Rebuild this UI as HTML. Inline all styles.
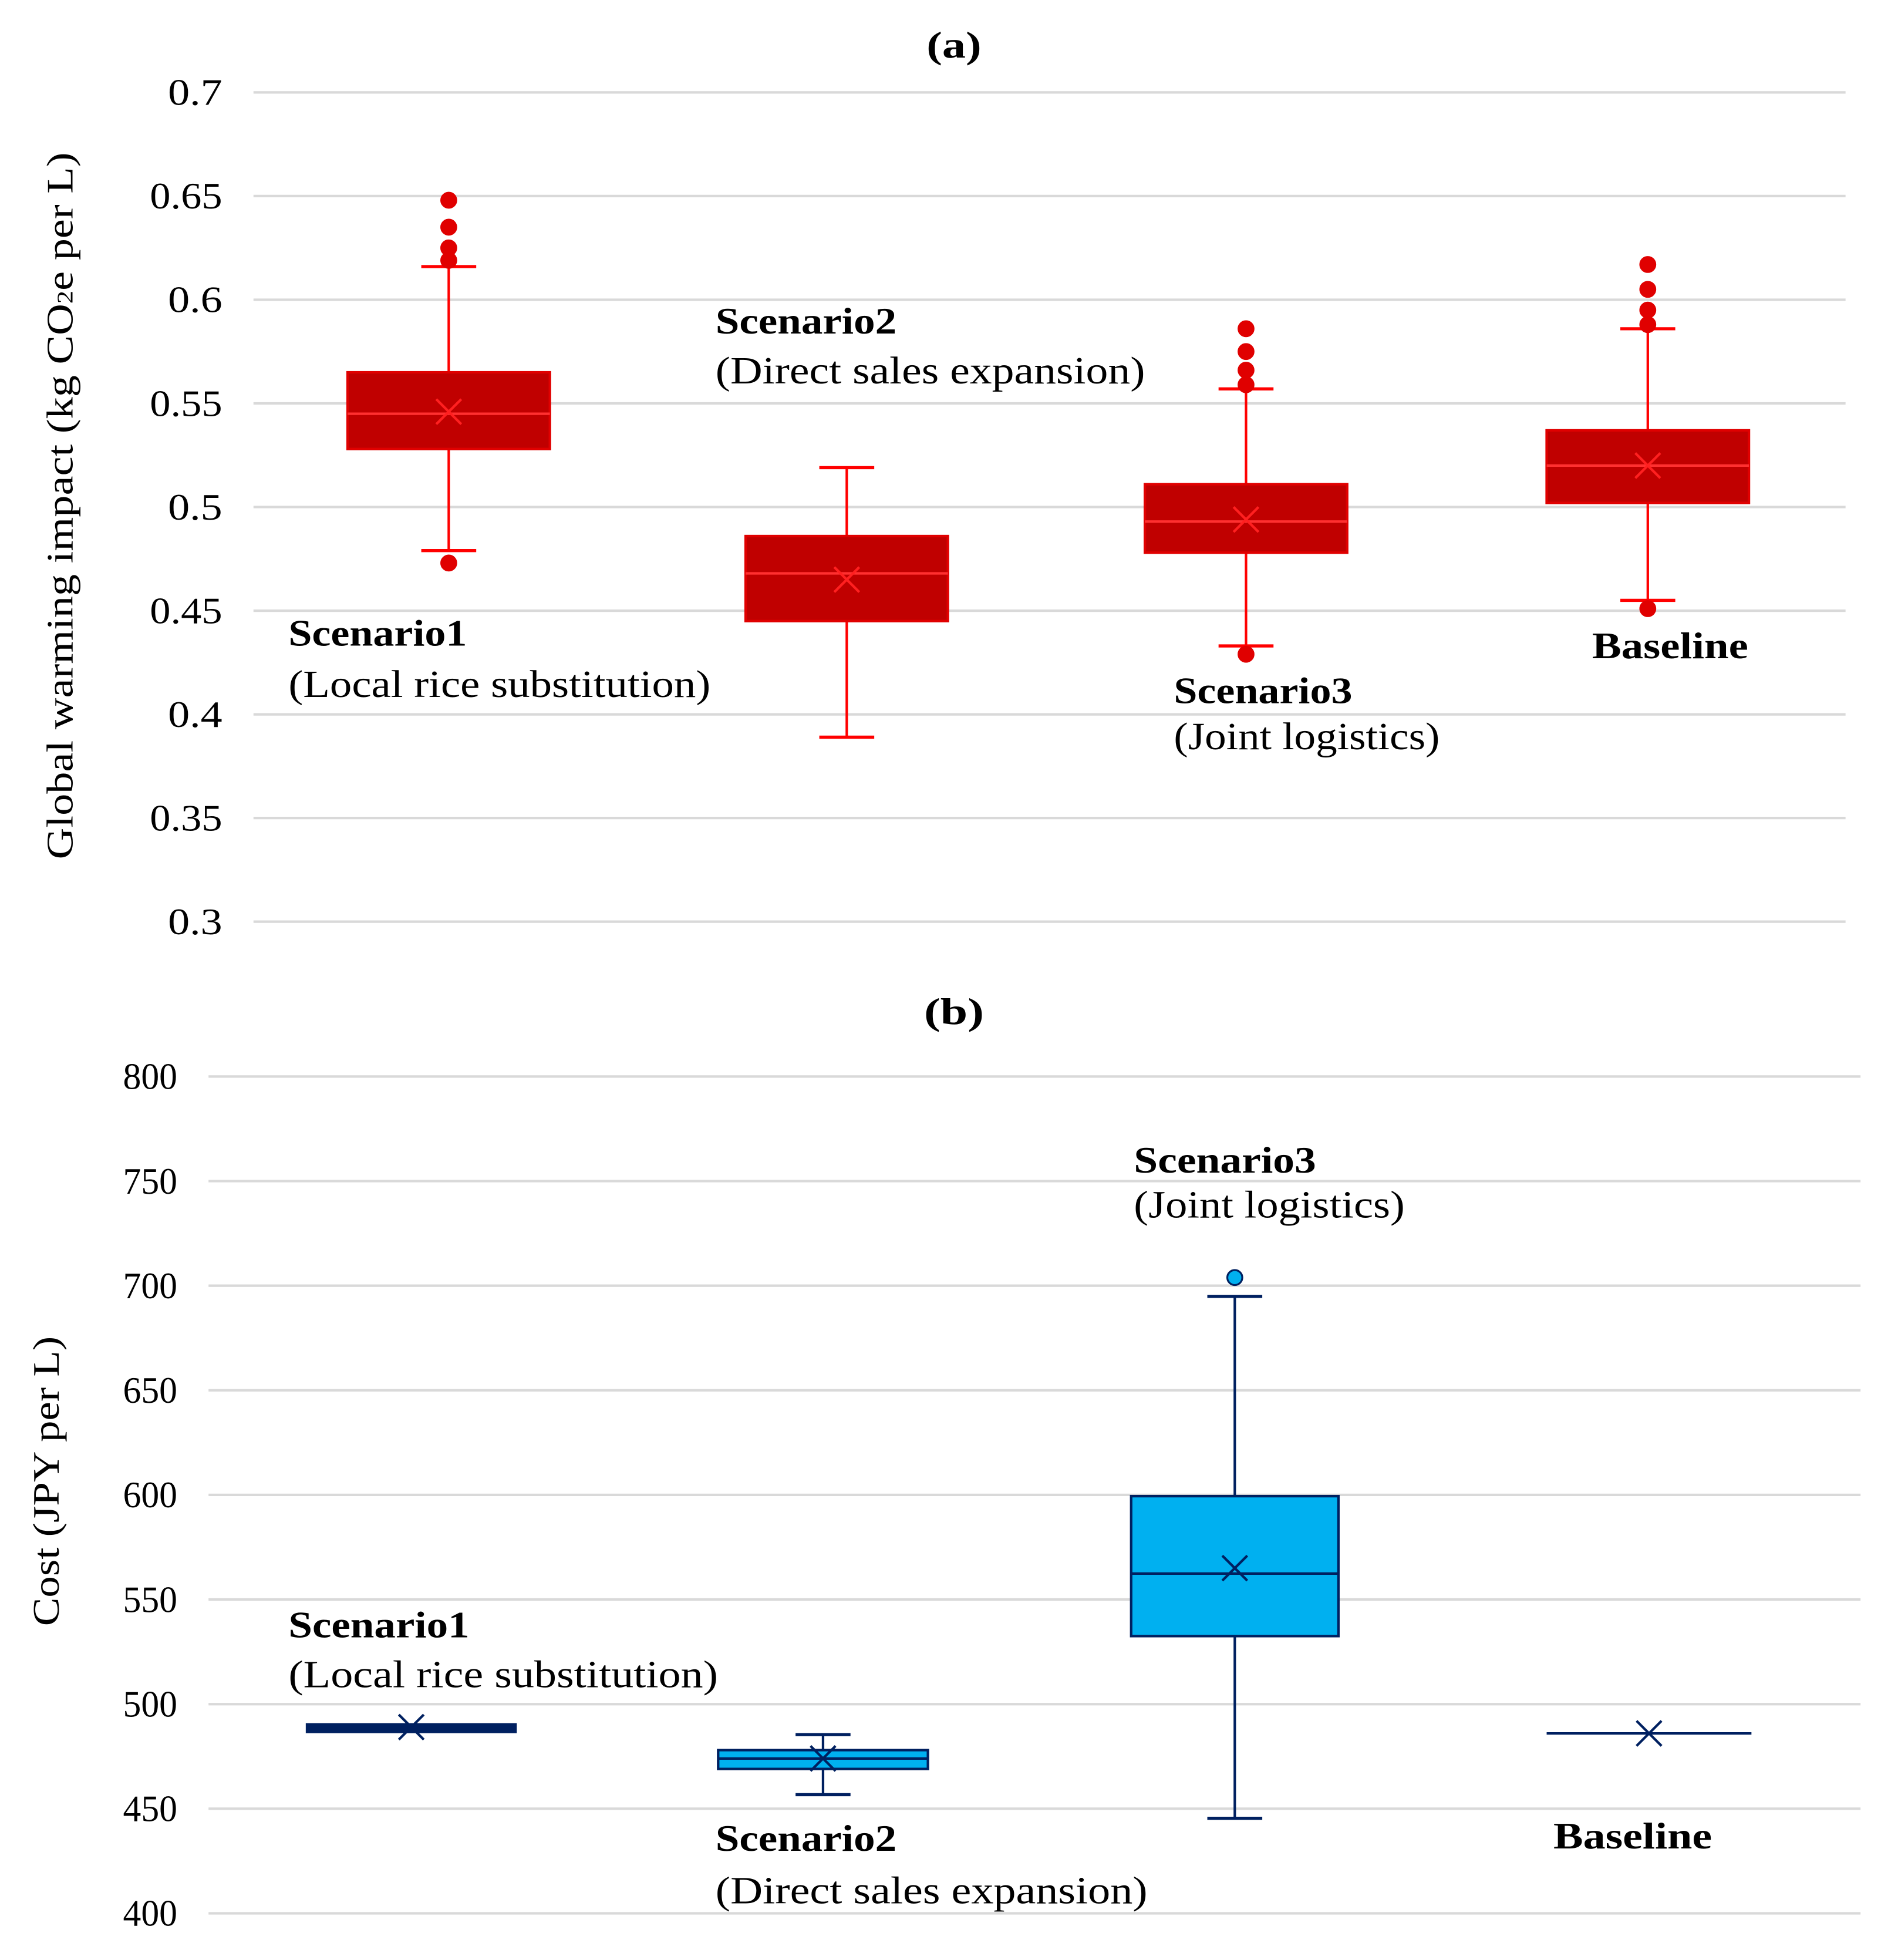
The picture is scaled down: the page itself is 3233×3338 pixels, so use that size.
<!DOCTYPE html>
<html><head><meta charset="utf-8">
<style>
html,body{margin:0;padding:0;background:#fff;}
svg{display:block;}
text{font-family:"Liberation Serif",serif;fill:#000;}
</style></head>
<body>
<svg id="chart" width="3233" height="3338" viewBox="0 0 1520 1569.4" preserveAspectRatio="none" xmlns="http://www.w3.org/2000/svg">
<rect width="1520" height="1570" fill="#fff"/>
<g id="pa"></g>
<g id="pb"></g>
</svg>
<script>
const catsA = ["Scenario1","Scenario2","Scenario3","Baseline"];
const q1A = [0.528,0.445,0.478,0.502];
const q3A = [0.565,0.486,0.511,0.537];
const medA = [0.545,0.468,0.493,0.520];
const meanA = [0.546,0.465,0.494,0.520];
const loA = [0.479,0.389,0.433,0.455];
const hiA = [0.616,0.519,0.557,0.586];
const outA = [[0.648,0.635,0.625,0.619,0.473],[],[0.586,0.575,0.566,0.559,0.429],[0.617,0.605,0.595,0.588,0.451]];
const ticksA = [0.3,0.35,0.4,0.45,0.5,0.55,0.6,0.65,0.7];
const tickLabA = ["0.3","0.35","0.4","0.45","0.5","0.55","0.6","0.65","0.7"];

const catsB = ["Scenario1","Scenario2","Scenario3","Baseline"];
const q1B = [487,469,532.5,486];
const q3B = [490,478,599.4,486];
const medB = [488.5,474,562.4,486];
const meanB = [489,474,565,486];
const loB = [488,456.7,445.4,486];
const hiB = [489,485.4,694.9,486];
const outB = [[],[],[703.9],[]];
const ticksB = [400,450,500,550,600,650,700,750,800];
const tickLabB = ["400","450","500","550","600","650","700","750","800"];

const NS="http://www.w3.org/2000/svg";
function mk(parent,tag,attrs,txt){const e=document.createElementNS(NS,tag);for(const k in attrs)e.setAttribute(k,attrs[k]);if(txt!==undefined)e.textContent=txt;parent.appendChild(e);return e;}

function panel(g,cfg){
  const y=v=>cfg.y0+(cfg.vmax-v)/(cfg.vmax-cfg.vmin)*(cfg.y1-cfg.y0);
  const x=i=>cfg.xl+(i+0.5)*(cfg.xr-cfg.xl)/cfg.cats.length;
  cfg.ticks.forEach((t,i)=>{
    const l=mk(g,'line',{x1:cfg.xl,x2:cfg.xr,y1:y(t),y2:y(t),stroke:'#d9d9d9','stroke-width':2});
    
    
    const tx=mk(g,'text',{x:cfg.xl-25,y:y(t)+10,'text-anchor':'end','font-size':30,'textLength':cfg.tickLab[i].length*14.5,'lengthAdjust':'spacingAndGlyphs'},cfg.tickLab[i]);
    
    
  });
  cfg.cats.forEach((c,i)=>{
    const bg=mk(g,'g',{});
    
    
    const cx=x(i)+cfg.dx[i], w=cfg.bw[i], cap=cfg.cap;
    mk(bg,'line',{x1:cx,x2:cx,y1:y(cfg.hi[i]),y2:y(cfg.q3[i]),stroke:cfg.wc,'stroke-width':2});
    mk(bg,'line',{x1:cx,x2:cx,y1:y(cfg.q1[i]),y2:y(cfg.lo[i]),stroke:cfg.wc,'stroke-width':2});
    if(cfg.hi[i]!==cfg.q3[i]){
      mk(bg,'line',{x1:cx-cap,x2:cx+cap,y1:y(cfg.hi[i]),y2:y(cfg.hi[i]),stroke:cfg.wc,'stroke-width':2.5});
      mk(bg,'line',{x1:cx-cap,x2:cx+cap,y1:y(cfg.lo[i]),y2:y(cfg.lo[i]),stroke:cfg.wc,'stroke-width':2.5});
    }
    const h=Math.max(y(cfg.q1[i])-y(cfg.q3[i]),0);
    mk(bg,'rect',{x:cx-w/2,y:y(cfg.q3[i]),width:w,height:h,fill:h>6?cfg.fill:cfg.lc,stroke:cfg.lc,'stroke-width':h>0&&h<=6?3:2});
    mk(bg,'line',{x1:cx-w/2,x2:cx+w/2,y1:y(cfg.med[i]),y2:y(cfg.med[i]),stroke:cfg.mc,'stroke-width':2});
    const my=y(cfg.mean[i]),s=10;
    mk(bg,'path',{d:`M${cx-s} ${my-s}L${cx+s} ${my+s}M${cx+s} ${my-s}L${cx-s} ${my+s}`,stroke:cfg.xc,'stroke-width':2,fill:'none'});
    cfg.out[i].forEach(o=>{
      const d=mk(bg,'circle',{cx:cx,cy:y(o),r:6,fill:cfg.oc,stroke:cfg.ocs,'stroke-width':1.5});
      
      
    });
  });
}

const ga=document.getElementById('pa');
panel(ga,{cats:catsA,q1:q1A,q3:q3A,med:medA,mean:meanA,lo:loA,hi:hiA,out:outA,ticks:ticksA,tickLab:tickLabA,
  vmin:0.3,vmax:0.7,y0:74,y1:738,xl:203,xr:1478,dx:[-3,-3,-2,1],bw:[162,162,162,162],cap:22,
  fill:'#C00000',lc:'#E00000',mc:'#FF3030',wc:'#FF0000',xc:'#FF2020',oc:'#E00000',ocs:'#E00000'});
const gb=document.getElementById('pb');
panel(gb,{cats:catsB,q1:q1B,q3:q3B,med:medB,mean:meanB,lo:loB,hi:hiB,out:outB,ticks:ticksB,tickLab:tickLabB,
  vmin:400,vmax:800,y0:862,y1:1532,xl:167,xr:1490,dx:[-3,-4,-5,-4],bw:[166,168,166,164],cap:22,
  fill:'#00B0F0',lc:'#002060',mc:'#002060',wc:'#002060',xc:'#002060',oc:'#00B0F0',ocs:'#002060'});

function label(txt,x,y,bold,name,len){
  const a={x:x,y:y,'font-size':bold?30:31,'font-weight':bold?'bold':'normal'};
  if(len){a.textLength=len;a.lengthAdjust='spacingAndGlyphs';}
  const t=mk(document.getElementById('chart'),'text',a,txt);
  
  
}
label('(a)',742,46,true,'panel-a-title',44);
label('(b)',740,820,true,'panel-b-title',48);
label('Scenario2',573,267,true,'annotation-scenario2',145);
label('(Direct sales expansion)',573,307,false,'annotation-scenario2-desc',344);
label('Scenario1',231,517,true,'annotation-scenario1',143);
label('(Local rice substitution)',231,558,false,'annotation-scenario1-desc',338);
label('Scenario3',940,563,true,'annotation-scenario3',143);
label('(Joint logistics)',940,600,false,'annotation-scenario3-desc',213);
label('Baseline',1275,527,true,'annotation-baseline',125);
label('Scenario3',908,939,true,'annotation-b-scenario3',146);
label('(Joint logistics)',908,975,false,'annotation-b-scenario3-desc',217);
label('Scenario1',231,1311,true,'annotation-b-scenario1',145);
label('(Local rice substitution)',231,1351,false,'annotation-b-scenario1-desc',344);
label('Scenario2',573,1482,true,'annotation-b-scenario2',145);
label('(Direct sales expansion)',573,1524,false,'annotation-b-scenario2-desc',346);
label('Baseline',1244,1480,true,'annotation-b-baseline',127);

const svg=document.getElementById('chart');
const ya=mk(svg,'text',{x:0,y:0,'font-size':30,'text-anchor':'middle',textLength:566,lengthAdjust:'spacingAndGlyphs',transform:'translate(58,405) rotate(-90)'});


ya.innerHTML='Global warming impact (kg CO<tspan font-size="18">2</tspan>e per L)';
const yb=mk(svg,'text',{x:0,y:0,'font-size':30,'text-anchor':'middle',textLength:232,lengthAdjust:'spacingAndGlyphs',transform:'translate(47,1186) rotate(-90)'},'Cost (JPY per L)');


</script>
</body></html>
